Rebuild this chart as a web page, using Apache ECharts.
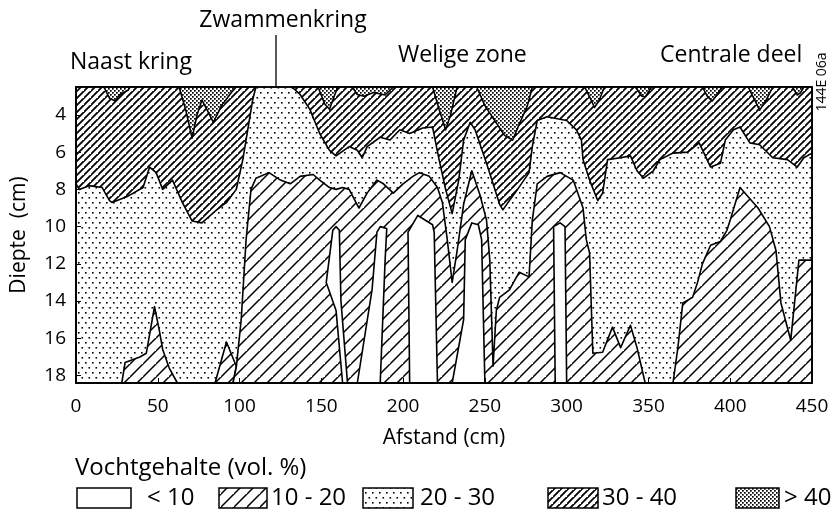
<!DOCTYPE html>
<html>
<head>
<meta charset="utf-8">
<script src="https://cdn.jsdelivr.net/npm/echarts@6/dist/echarts.min.js"></script>
<style>
html, body { margin: 0; padding: 0; background: #fff; }
#main { width: 835px; height: 530px; }
</style>
</head>
<body>
<div id="main"></div>
<script>
// axis ticks
var afstandTicks = [0, 50, 100, 150, 200, 250, 300, 350, 400, 450];
var diepteTicks = [4, 6, 8, 10, 12, 14, 16, 18];
var diepteMin = 2.5, diepteMax = 18.4;

var klassen = ['< 10', '10 - 20', '20 - 30', '30 - 40', '> 40'];

// zones as polygons of [afstand (cm), diepte (cm)]
var zone2030 = [
  [[0, 2.5], [450, 2.5], [450, 18.4], [0, 18.4]]
];

var zone3040 = [
  [[0, 2.5], [110, 2.5], [108, 3.2], [105, 4.8], [102, 6.4], [98, 8.0], [92, 8.7], [86, 9.1], [77, 9.8],
   [71, 9.7], [65, 8.7], [59, 7.5], [53, 8.0], [49, 7.1], [45, 6.8], [41, 7.9], [31, 8.4], [22, 8.7],
   [20.5, 8.6], [16, 7.9], [8, 7.8], [2, 8.0], [0, 7.7]],
  [[132, 2.5], [137, 2.9], [143, 3.7], [149, 5.0], [155, 5.9], [159, 6.2], [167, 5.7], [172, 5.9],
   [175, 6.3], [178, 5.7], [186, 5.2], [192, 5.35], [198, 4.8], [204, 5.0], [212, 4.7], [218, 4.65],
   [222, 6.4], [226, 8.0], [230, 9.3], [234, 7.5], [237, 5.35], [241, 4.4], [244, 4.8], [251, 6.6],
   [259, 8.8], [261, 9.1], [265, 8.6], [270, 8.0], [277, 7.1], [279, 5.7], [282, 4.3], [288, 4.1],
   [300, 4.3], [306, 4.8], [309, 5.35], [310, 6.4], [314, 7.5], [319, 8.6], [322, 8.2], [325, 6.4],
   [333, 6.3], [339, 6.2], [343, 7.0], [347, 7.4], [353, 7.0], [357, 6.4], [365, 6.05], [374, 6.0],
   [381, 5.5], [388, 6.8], [394, 6.6], [397, 5.35], [402, 4.8], [406, 4.65], [412, 5.5], [418, 5.6],
   [426, 6.3], [435, 6.4], [441, 6.8], [445, 6.3], [450, 6.05], [450, 2.5]]
];

var zone40 = [
  [[17, 2.5], [20.5, 3.1], [24, 3.25], [27, 2.9], [32, 2.66], [33, 2.5]],
  [[63, 2.5], [67, 3.7], [71, 5.24], [74, 4.0], [77, 3.2], [80, 3.7], [84, 4.4], [89, 3.5], [95, 2.8], [98, 2.5]],
  [[148, 2.5], [152, 3.4], [155, 3.7], [157, 3.2], [160, 2.5]],
  [[169, 2.5], [172, 2.9], [176, 3.0], [182, 2.8], [189, 2.93], [194, 2.5]],
  [[218, 2.5], [222, 3.7], [226, 4.8], [229, 4.0], [233, 2.5]],
  [[245, 2.5], [250, 3.5], [256, 4.3], [262, 5.1], [267, 5.35], [271, 4.5], [276, 3.5], [279, 2.5]],
  [[311, 2.5], [315, 3.2], [317, 3.6], [320, 3.2], [323, 2.5]],
  [[342, 2.5], [346, 3.0], [348, 3.04], [352, 2.5]],
  [[383, 2.5], [386, 3.0], [389, 3.25], [392, 2.9], [395, 2.5]],
  [[411, 2.5], [415, 3.2], [418, 3.74], [422, 3.2], [426, 2.5]],
  [[438, 2.5], [441, 2.93], [443, 2.8], [445, 2.5]]
];

var zone1020 = [
  [[28, 18.4], [30, 17.3], [39, 17.0], [43, 16.8], [48, 14.3], [51, 15.6], [53, 16.6], [57, 17.6], [62, 18.4]],
  [[85, 18.4], [92, 16.2], [98, 17.5], [96, 18.4]],
  [[96, 18.4], [98, 17.55], [101, 15.0], [104, 10.7], [107, 8.0], [110, 7.4], [118, 7.1], [125, 7.5],
   [131, 7.7], [137, 7.3], [145, 7.2], [149, 7.5], [155, 7.9], [159, 8.0], [163, 7.9], [167, 8.0],
   [173, 9.0], [178, 8.2], [184, 7.5], [188, 7.7], [194, 8.2], [200, 7.7], [206, 7.3], [210, 7.1],
   [216, 7.3], [221, 7.9], [224, 8.7], [227, 10.7], [230, 13.0], [233, 11.3], [237, 8.8], [242, 7.0],
   [247, 8.3], [251, 9.65], [253, 11.8], [255, 17.5], [257, 14.5], [259, 13.8], [265, 13.4],
   [271, 12.45], [277, 12.7], [279, 9.65], [282, 7.7], [288, 7.3], [296, 7.1], [304, 7.5], [310, 9.0],
   [312, 10.7], [314, 11.4], [316, 16.8], [322, 16.75], [328, 15.4], [333, 16.5], [339, 15.3],
   [343, 16.5], [348, 18.4]],
  [[365, 18.4], [368, 16.5], [371, 14.1], [377, 13.8], [380, 13.0], [383, 12.0], [388, 11.0],
   [394, 10.8], [398, 10.2], [400, 9.65], [406, 7.9], [417, 9.0], [424, 10.0], [428, 11.3],
   [431, 14.1], [437, 16.1], [442, 11.8], [450, 11.8], [450, 18.4]]
];

var zone10 = [
  [[163, 18.4], [159, 14.5], [153, 13.0], [157, 10.2], [159, 10.0], [161, 10.2], [162, 14.0], [166, 18.4]],
  [[172, 18.4], [181, 13.4], [184, 10.3], [186, 10.0], [190, 10.1], [189, 11.8], [186, 18.4]],
  [[204, 18.4], [203, 10.3], [209, 9.4], [218, 9.9], [219, 10.3], [221, 18.4]],
  [[230, 18.4], [237, 15.0], [238, 10.7], [242, 9.8], [246, 9.9], [248, 10.7], [250, 18.4]],
  [[293, 18.4], [292, 10.0], [296, 9.8], [299, 10.0], [300, 18.4]]
];

var frame = [[[0, 2.5], [450, 2.5], [450, 18.4], [0, 18.4]]];

// fill patterns
function hatch(size, lw) {
  var c = document.createElement('canvas');
  c.width = size; c.height = size;
  var ctx = c.getContext('2d');
  ctx.fillStyle = '#fff';
  ctx.fillRect(0, 0, size, size);
  ctx.strokeStyle = '#000';
  ctx.lineWidth = lw;
  ctx.beginPath();
  ctx.moveTo(-1, size + 1); ctx.lineTo(size + 1, -1);
  ctx.moveTo(-size - 1, size + 1); ctx.lineTo(1, -1);
  ctx.moveTo(size - 1, 2 * size + 1); ctx.lineTo(2 * size + 1, size - 1);
  ctx.stroke();
  return { image: c, repeat: 'repeat' };
}
function dots(w, h, pts, s) {
  var c = document.createElement('canvas');
  c.width = w; c.height = h;
  var ctx = c.getContext('2d');
  ctx.fillStyle = '#fff';
  ctx.fillRect(0, 0, w, h);
  ctx.fillStyle = '#000';
  pts.forEach(function (p) { ctx.fillRect(p[0], p[1], s, s); });
  return { image: c, repeat: 'repeat' };
}

var fills = {
  '< 10': '#fff',
  '10 - 20': hatch(13, 1.5),
  '20 - 30': dots(7, 10, [[1, 2], [4.5, 7]], 1.6),
  '30 - 40': hatch(7, 1.8),
  '> 40': dots(4, 4, [[0, 0], [2, 2]], 1.7)
};

function zoneSeries(name, polys, fill) {
  return {
    type: 'custom',
    name: name,
    silent: true,
    data: polys.map(function (p) { return p[0]; }),
    renderItem: function (params, api) {
      var pts = polys[params.dataIndex].map(function (p) { return api.coord(p); });
      return {
        type: 'polygon',
        shape: { points: pts },
        style: { fill: fill, stroke: '#000', lineWidth: 1.6, lineJoin: 'round' }
      };
    }
  };
}

var font = 'Open Sans';
var txt = { fontFamily: font, fontSize: 23, fill: '#000' };
var ltxt = { fontFamily: font, fontSize: 24, fill: '#000' };

var graphics = [
  { type: 'text', left: 70, top: 51, style: Object.assign({ text: 'Naast kring' }, txt) },
  { type: 'text', x: 283, y: 20, style: Object.assign({ text: 'Zwammenkring', textAlign: 'center', textVerticalAlign: 'middle' }, txt) },
  { type: 'line', shape: { x1: 276, y1: 35, x2: 276, y2: 87 }, style: { stroke: '#000', lineWidth: 1.3 } },
  { type: 'text', left: 398, top: 44, style: Object.assign({ text: 'Welige zone' }, txt) },
  { type: 'text', left: 660, top: 44, style: Object.assign({ text: 'Centrale deel' }, txt) },
  { type: 'text', x: 822, y: 82, rotation: Math.PI / 2,
    style: { text: '144E 06a', fontFamily: font, fontSize: 14, fill: '#000', textAlign: 'center', textVerticalAlign: 'middle' } },
  { type: 'text', left: 75, top: 456, style: Object.assign({ text: 'Vochtgehalte (vol. %)' }, ltxt) }
];

var legendBoxes = [[77, 54], [219, 48], [363, 50], [548, 50], [736, 43]];
var legendText = [147, 271, 420, 602, 784];
klassen.forEach(function (k, i) {
  graphics.push({ type: 'rect', shape: { x: legendBoxes[i][0], y: 488, width: legendBoxes[i][1], height: 20 },
    style: { fill: fills[k], stroke: '#000', lineWidth: 1.5 } });
  graphics.push({ type: 'text', x: legendText[i], y: 498,
    style: Object.assign({ text: k, textVerticalAlign: 'middle' }, ltxt) });
});

var chart = echarts.init(document.getElementById('main'), null, { renderer: 'canvas' });
chart.setOption({
  animation: false,
  backgroundColor: '#fff',
  grid: { left: 76, right: 23, top: 87, bottom: 147, containLabel: false },
  xAxis: {
    type: 'value', min: 0, max: 450, interval: 50, z: 10,
    name: 'Afstand (cm)', nameLocation: 'middle', nameGap: 45,
    nameTextStyle: { fontFamily: font, fontSize: 21, color: '#000' },
    axisLine: { show: true, lineStyle: { color: '#000', width: 1.6 } },
    axisTick: { inside: true, length: 5, lineStyle: { color: '#000' } },
    axisLabel: { fontFamily: font, fontSize: 19, color: '#000', margin: 14,
      customValues: afstandTicks },
    splitLine: { show: false }
  },
  yAxis: {
    type: 'value', inverse: true, min: diepteMin, max: diepteMax, z: 10,
    name: 'Diepte  (cm)', nameLocation: 'middle', nameGap: 46, nameRotate: 90,
    nameTextStyle: { fontFamily: font, fontSize: 21, color: '#000' },
    axisLine: { show: true, lineStyle: { color: '#000', width: 1.6 } },
    axisTick: { inside: true, length: 5, lineStyle: { color: '#000' }, customValues: diepteTicks },
    axisLabel: { fontFamily: font, fontSize: 19, color: '#000', margin: 10, customValues: diepteTicks },
    splitLine: { show: false }
  },
  graphic: graphics,
  series: [
    zoneSeries('20 - 30', zone2030, fills['20 - 30']),
    zoneSeries('30 - 40', zone3040, fills['30 - 40']),
    zoneSeries('> 40', zone40, fills['> 40']),
    zoneSeries('10 - 20', zone1020, fills['10 - 20']),
    zoneSeries('< 10', zone10, fills['< 10']),
    zoneSeries('frame', frame, 'none')
  ]
});
</script>
</body>
</html>
